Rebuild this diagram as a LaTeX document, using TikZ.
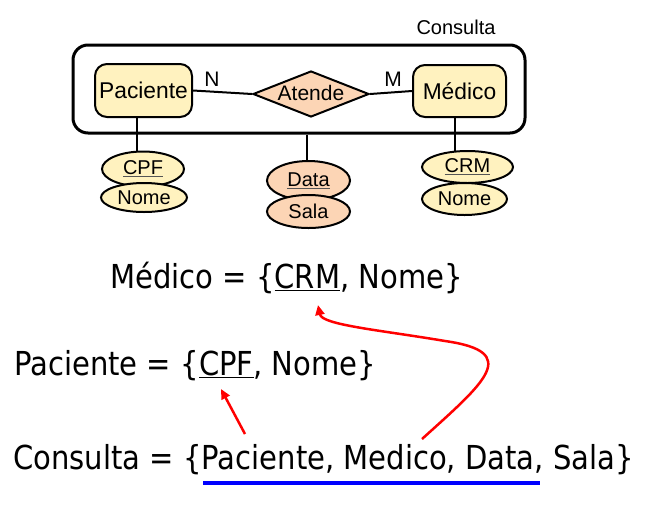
\documentclass[tikz,border=0pt]{standalone}
\usepackage{fontspec}
\setmainfont{Liberation Sans}
\newfontfamily\tahoma[FakeStretch=0.88]{DejaVu Sans}
\usetikzlibrary{shapes.geometric,arrows.meta,backgrounds}
\definecolor{entfill}{HTML}{FFF2BF}
\definecolor{relfill}{HTML}{FCD5B5}
\definecolor{ulgray}{HTML}{555555}
\newcommand{\ulg}[1]{\rlap{\color{ulgray}\underline{\phantom{#1}}}#1}
\begin{document}
\begin{tikzpicture}[x=1pt,y=-1pt,line width=2pt,
  ent/.style={draw,rounded corners=12pt,fill=entfill,inner sep=0pt,
    minimum width=97pt,minimum height=53pt,font=\fontsize{22.8}{25}\selectfont},
  attr/.style={draw,ellipse,fill=entfill,inner sep=0pt,font=\fontsize{20}{22}\selectfont},
  rattr/.style={attr,fill=relfill},
  card/.style={font=\fontsize{21}{24}\selectfont,inner sep=0pt},
  conn/.style={draw=black,line width=2pt},
  reltext/.style={anchor=base west,inner sep=0pt,font=\tahoma\fontsize{33}{40}\selectfont},
  redarrow/.style={draw=red,line width=2.5pt,-{Triangle[length=10pt,width=9pt]},fill=none},
]
\useasboundingbox (0,0) rectangle (658,509);

% aggregate
\node[draw,line width=3pt,rounded corners=15pt,minimum width=452pt,minimum height=88pt] (agg) at (299,89) {};
\node[font=\fontsize{20}{22}\selectfont,inner sep=0pt] (aggl) at (456,27) {Consulta};

% entities and relationship
\node[ent] (pac) at (143.5,90.5) {Paciente};
\node[ent,minimum width=93pt,minimum height=52pt] (med) at (459.5,91) {Médico};
\node[diamond,draw,fill=relfill,aspect=2.5,inner sep=0pt,minimum width=116pt,minimum height=46pt,
  font=\fontsize{21}{23}\selectfont] (atd) at (311,94) {\raisebox{2pt}{Atende}};
\node[card] (nl) at (212,79) {N};
\node[card] (ml) at (393,79) {M};

% attributes
\node[attr,minimum width=82pt,minimum height=35pt] (cpf) at (143,169) {\ulg{CPF}};
\node[attr,minimum width=86pt,minimum height=29pt] (nome1) at (144,197.5) {Nome};
\node[rattr,minimum width=83pt,minimum height=39pt] (data) at (308.5,180.5) {\ulg{Data}};
\node[rattr,minimum width=83pt,minimum height=33pt] (sala) at (308.5,211.5) {Sala};
\node[attr,minimum width=91pt,minimum height=32pt] (crm) at (467.5,167) {\ulg{CRM}};
\node[attr,minimum width=85pt,minimum height=32pt] (nome2) at (464.5,199) {Nome};

\begin{pgfonlayer}{background}
  \coordinate (px) at (137,0);
  \coordinate (mx) at (455,0);
  \coordinate (dx) at (307,0);
  \draw[conn] (pac.east) -- (atd.west);
  \draw[conn] (atd.east) -- (med.west);
  \draw[conn] (pac.south -| px) -- (cpf.center -| px);
  \draw[conn] (agg.south -| dx) -- (data.center -| dx);
  \draw[conn] (med.south -| mx) -- (crm.center -| mx);
\end{pgfonlayer}

% relational schema
\node[reltext] (rmed) at (110,288) {Médico = \{\underline{CRM}, Nome\}};
\node[reltext] (rpac) at (14,375) {Paciente = \{\underline{CPF}, Nome\}};
\node[reltext] (rcon) at (13,469) {Consulta = \{Paciente, Medico, Data, Sala\}};

\coordinate (bl1) at (203,483);
\coordinate (bl2) at (540,483);
\draw[blue,line width=4pt] (bl1) -- (bl2);

\coordinate (a1s) at (245,434);
\coordinate (a1e) at (221,389);
\draw[redarrow] (a1s) -- (a1e);

\coordinate (a2s) at (422,439);
\coordinate (a2m) at (445,341);
\coordinate (a2e) at (318,305);
\draw[redarrow] (a2s) .. controls (485,382) and (522,352) .. (a2m)
  .. controls (380,330) and (322,325) .. (a2e);
\end{tikzpicture}
\end{document}
